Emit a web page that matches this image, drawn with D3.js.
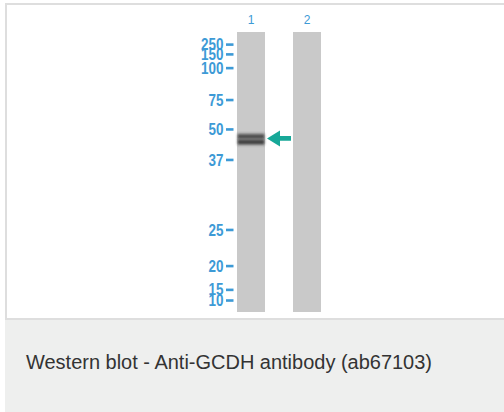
<!DOCTYPE html>
<html>
<head>
    <title>Western blot | GCDH</title>
    <script src="https://d3js.org/d3.v7.min.js"></script>
    <style>
        body {
            margin: 0;
            background: #ffffff;
            font-family: "Liberation Sans", Arial, sans-serif;
        }
        .marker-label {
            font-family: "Liberation Sans", Arial, sans-serif;
            font-weight: bold;
            font-size: 16px;
            fill: #3d9ad6;
        }
        .lane-label {
            font-size: 12px;
            fill: #3d9ad6;
        }
        .caption {
            font-size: 20px;
            fill: #333333;
        }
    </style>
</head>
<body>
    <div id="blot"></div>

    <script>
        // molecular weight markers (kDa) and their relative migration down the lane
        const markers = ['250', '150', '100', '75', '50', '37', '25', '20', '15', '10'];
        const migration = [0.045, 0.080, 0.129, 0.243, 0.348, 0.457, 0.707, 0.836, 0.921, 0.959];

        const lanes = ['1', '2'];
        // detected bands: lane, relative migration, intensity
        const bandLane = ['1', '1'];
        const bandMigration = [0.373, 0.393];
        const bandIntensity = [0.8, 0.9];
        const arrowMigration = 0.38;

        const caption = 'Western blot - Anti-GCDH antibody (ab67103)';

        const width = 504;
        const height = 412;
        const laneTop = 32;
        const laneBottom = 312;

        const svg = d3.select('#blot').append('svg')
            .attr('width', width)
            .attr('height', height);

        // white image panel with light border
        svg.append('rect')
            .attr('x', 6)
            .attr('y', 4)
            .attr('width', width)
            .attr('height', 315)
            .attr('fill', '#ffffff')
            .attr('stroke', '#dedede')
            .attr('stroke-width', 2);

        // caption area
        svg.append('rect')
            .attr('x', 5)
            .attr('y', 320)
            .attr('width', width)
            .attr('height', height - 320)
            .attr('fill', '#eeefee');

        svg.append('text')
            .attr('class', 'caption')
            .attr('x', 26)
            .attr('y', 369)
            .attr('textLength', 406)
            .attr('lengthAdjust', 'spacingAndGlyphs')
            .text(caption);

        const yScale = d3.scaleLinear()
            .domain([0, 1])
            .range([laneTop, laneBottom]);

        const xScale = d3.scaleBand()
            .domain(lanes)
            .range([237, 321])
            .paddingInner(0.5);

        // lanes
        svg.selectAll('.lane').data(lanes)
            .enter().append('rect')
            .attr('class', 'lane')
            .attr('x', d => xScale(d))
            .attr('y', yScale(0))
            .attr('width', xScale.bandwidth())
            .attr('height', yScale(1) - yScale(0))
            .attr('fill', '#c9c9c9');

        svg.selectAll('.lane-label').data(lanes)
            .enter().append('text')
            .attr('class', 'lane-label')
            .attr('x', d => xScale(d) + xScale.bandwidth() / 2)
            .attr('y', 24)
            .attr('text-anchor', 'middle')
            .text(d => d);

        // marker ladder
        const markerG = svg.selectAll('.marker').data(markers)
            .enter().append('g')
            .attr('class', 'marker')
            .attr('transform', (d, i) => `translate(0,${yScale(migration[i])})`);

        markerG.append('rect')
            .attr('x', 226)
            .attr('y', -1.3)
            .attr('width', 7.5)
            .attr('height', 2.6)
            .attr('fill', '#3d9ad6');

        markerG.append('text')
            .attr('class', 'marker-label')
            .attr('transform', 'translate(223.5,5.6) scale(0.84,1)')
            .attr('text-anchor', 'end')
            .text(d => d);

        // bands, blurred
        const defs = svg.append('defs');
        defs.append('filter')
            .attr('id', 'blur')
            .attr('x', '-10%').attr('y', '-100%')
            .attr('width', '120%').attr('height', '300%')
            .append('feGaussianBlur')
            .attr('stdDeviation', '0.8 1.4');

        svg.selectAll('.band').data(bandMigration)
            .enter().append('rect')
            .attr('class', 'band')
            .attr('x', (d, i) => xScale(bandLane[i]) + 0.5)
            .attr('y', d => yScale(d) - 2.5)
            .attr('width', xScale.bandwidth() - 1)
            .attr('height', 5)
            .attr('fill', '#2a2a2a')
            .attr('opacity', (d, i) => bandIntensity[i])
            .attr('filter', 'url(#blur)');

        // arrow pointing at the band
        const ay = yScale(arrowMigration);
        const ax = xScale('1') + xScale.bandwidth() + 2;
        svg.append('path')
            .attr('d', `M${ax},${ay} L${ax + 13},${ay - 8} L${ax + 13},${ay - 2.4} L${ax + 24},${ay - 2.4}
                        L${ax + 24},${ay + 2.4} L${ax + 13},${ay + 2.4} L${ax + 13},${ay + 8} Z`)
            .attr('fill', '#17a898');
    </script>
</body>
</html>
